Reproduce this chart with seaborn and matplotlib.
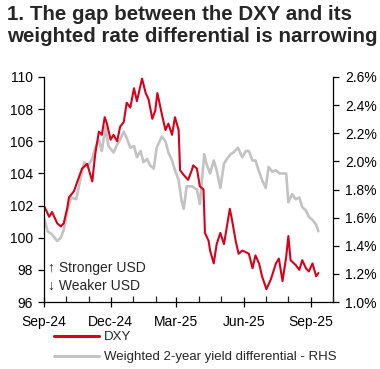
import matplotlib
matplotlib.use("Agg")
import matplotlib.pyplot as plt
import matplotlib.dates as mdates
import seaborn as sns
import pandas as pd

# ---- data ----
dxy_dates = ["2024-09-02", "2024-09-08", "2024-09-12", "2024-09-19", "2024-09-24", "2024-09-28",
             "2024-10-03", "2024-10-05", "2024-10-12", "2024-10-19", "2024-10-23", "2024-10-30",
             "2024-11-06", "2024-11-10", "2024-11-15", "2024-11-19", "2024-11-23", "2024-11-26",
             "2024-12-01", "2024-12-05", "2024-12-10", "2024-12-14", "2024-12-19", "2024-12-23",
             "2024-12-28", "2025-01-02", "2025-01-06", "2025-01-13", "2025-01-18", "2025-01-22",
             "2025-01-27", "2025-01-31", "2025-02-03", "2025-02-09", "2025-02-14", "2025-02-18",
             "2025-02-23", "2025-02-27", "2025-03-04", "2025-03-06", "2025-03-11", "2025-03-17",
             "2025-03-22", "2025-03-24", "2025-03-29", "2025-04-02", "2025-04-07", "2025-04-09",
             "2025-04-14", "2025-04-16", "2025-04-21", "2025-04-25", "2025-04-30", "2025-05-05",
             "2025-05-09", "2025-05-13", "2025-05-16", "2025-05-21", "2025-05-25", "2025-05-30",
             "2025-06-04", "2025-06-08", "2025-06-13", "2025-06-17", "2025-06-22", "2025-06-26",
             "2025-07-02", "2025-07-08", "2025-07-15", "2025-07-19", "2025-07-24", "2025-07-29",
             "2025-08-01", "2025-08-04", "2025-08-11", "2025-08-16", "2025-08-20", "2025-08-25",
             "2025-08-29", "2025-09-03", "2025-09-08", "2025-09-11"]
dxy_values = [101.9, 101.3, 101.6, 100.9, 100.7, 100.9,
              101.9, 102.5, 102.9, 103.8, 104.3, 104.6,
              103.5, 105.2, 106.6, 106.4, 107.5, 107.1,
              106.1, 106.4, 106.0, 106.9, 107.2, 108.4,
              108.1, 109.3, 108.5, 109.9, 109.0, 108.6,
              107.4, 107.9, 109.0, 107.7, 106.7, 107.1,
              106.4, 107.5, 106.7, 104.2, 103.9, 103.6,
              104.2, 104.5, 104.3, 103.2, 103.0, 100.3,
              99.8, 99.2, 98.4, 99.6, 100.3, 99.6,
              100.7, 101.8, 101.1, 99.8, 99.0, 99.2,
              99.1, 99.0, 98.1, 98.9, 98.4, 97.6,
              96.8, 97.4, 98.4, 98.7, 97.3, 98.8,
              100.1, 98.6, 98.3, 98.0, 98.6, 98.1,
              97.9, 98.4, 97.6, 97.8]

diff_dates = ["2024-09-02", "2024-09-06", "2024-09-12", "2024-09-19", "2024-09-24", "2024-09-28",
              "2024-10-03", "2024-10-08", "2024-10-15", "2024-10-22", "2024-10-26", "2024-10-30",
              "2024-11-06", "2024-11-10", "2024-11-15", "2024-11-19", "2024-11-24", "2024-11-28",
              "2024-12-05", "2024-12-10", "2024-12-14", "2024-12-19", "2024-12-23", "2024-12-28",
              "2025-01-02", "2025-01-06", "2025-01-11", "2025-01-15", "2025-01-20", "2025-01-24",
              "2025-01-29", "2025-02-02", "2025-02-09", "2025-02-14", "2025-02-18", "2025-02-23",
              "2025-02-27", "2025-03-04", "2025-03-08", "2025-03-11", "2025-03-15", "2025-03-22",
              "2025-03-29", "2025-04-02", "2025-04-04", "2025-04-08", "2025-04-11", "2025-04-16",
              "2025-04-21", "2025-04-25", "2025-04-30", "2025-05-05", "2025-05-09", "2025-05-14",
              "2025-05-18", "2025-05-24", "2025-05-30", "2025-06-04", "2025-06-08", "2025-06-13",
              "2025-06-17", "2025-06-22", "2025-06-26", "2025-07-01", "2025-07-05", "2025-07-10",
              "2025-07-15", "2025-07-20", "2025-07-24", "2025-07-29", "2025-08-01", "2025-08-06",
              "2025-08-11", "2025-08-16", "2025-08-20", "2025-08-25", "2025-08-29", "2025-09-03",
              "2025-09-08", "2025-09-11"]
diff_values = [1.583, 1.503, 1.480, 1.434, 1.457, 1.514,
               1.651, 1.743, 1.731, 1.903, 1.994, 1.960,
               2.017, 2.097, 2.154, 2.074, 2.246, 2.109,
               2.063, 2.120, 2.154, 2.211, 2.166, 2.097,
               2.109, 2.029, 2.074, 1.994, 2.017, 1.971,
               1.949, 2.097, 2.177, 2.143, 2.063, 2.006,
               1.937, 1.869, 1.720, 1.663, 1.823, 1.823,
               1.800, 1.697, 1.811, 2.051, 1.983, 1.914,
               2.006, 1.937, 1.811, 1.983, 2.017, 2.051,
               2.063, 2.097, 2.029, 2.074, 2.074, 2.006,
               2.006, 1.926, 1.869, 1.811, 1.960, 1.926,
               1.937, 1.914, 1.914, 1.914, 1.709, 1.766,
               1.731, 1.743, 1.674, 1.651, 1.606, 1.583,
               1.549, 1.503]

left_ticks = [96, 98, 100, 102, 104, 106, 108, 110]
right_ticks = [1.0, 1.2, 1.4, 1.6, 1.8, 2.0, 2.2, 2.4, 2.6]

title = "1. The gap between the DXY and its\nweighted rate differential is narrowing"
dxy_label = "DXY"
diff_label = "Weighted 2-year yield differential - RHS"

RED = "#D9001B"
GREY = "#C3C3C3"

sns.set_style("white")
plt.rcParams["font.family"] = ["Liberation Sans", "DejaVu Sans"]

fig = plt.figure(figsize=(3.8, 3.69), dpi=100)
ax = fig.add_axes([44 / 380, 1 - 302 / 369, (333 - 44) / 380, (302 - 77) / 369])
ax2 = ax.twinx()

df_dxy = pd.DataFrame({"date": pd.to_datetime(dxy_dates), "value": dxy_values})
df_diff = pd.DataFrame({"date": pd.to_datetime(diff_dates), "value": diff_values})

sns.lineplot(data=df_diff, x="date", y="value", ax=ax2, color=GREY, linewidth=1.9,
             label=diff_label, legend=False)
sns.lineplot(data=df_dxy, x="date", y="value", ax=ax, color=RED, linewidth=1.5,
             label=dxy_label, legend=False)

# draw red above grey
ax.set_zorder(ax2.get_zorder() + 1)
ax.patch.set_visible(False)

ax.set_xlim(pd.Timestamp("2024-09-01"), pd.Timestamp("2025-10-01"))
ax.set_ylim(96, 110)
ax2.set_ylim(1.0, 2.6)
ax.set_yticks(left_ticks)
ax.set_yticklabels([str(t) for t in left_ticks])
ax2.set_yticks(right_ticks)
ax2.set_yticklabels([f"{t:.1f}%" for t in right_ticks])

ax.xaxis.set_major_locator(mdates.MonthLocator(bymonth=[3, 6, 9, 12]))
ax.xaxis.set_major_formatter(mdates.DateFormatter("%b-%y"))
ax.xaxis.set_minor_locator(mdates.MonthLocator())

for a in (ax, ax2):
    a.set_xlabel("")
    a.set_ylabel("")
    a.spines["top"].set_visible(False)
    for s in ("left", "right", "bottom"):
        a.spines[s].set_color("black")
        a.spines[s].set_linewidth(0.9)
    a.grid(False)

ax.spines["right"].set_visible(False)
ax2.spines["left"].set_visible(False)
ax2.spines["bottom"].set_visible(False)

ax.tick_params(axis="y", which="major", direction="out", length=4, width=0.9,
               labelsize=10, pad=4, left=True, colors="black")
ax2.tick_params(axis="y", which="major", direction="out", length=4, width=0.9,
                labelsize=10, pad=5, right=True, colors="black")
ax.tick_params(axis="x", which="major", direction="inout", length=7, width=0.9,
               labelsize=10, pad=6, bottom=True, colors="black")
ax.tick_params(axis="x", which="minor", direction="in", length=4, width=0.9, bottom=True)

ax.text(0.015, 0.111, "\u2191 Stronger USD\n\u2193 Weaker USD", transform=ax.transAxes,
        fontsize=10, va="center", ha="left", linespacing=1.3,
        family=["Liberation Sans", "DejaVu Sans"])

fig.text(7 / 380, 1 - 5 / 369, title, fontsize=14.8, fontweight="bold", va="top", ha="left",
         linespacing=1.2)

h1, l1 = ax.get_legend_handles_labels()
h2, l2 = ax2.get_legend_handles_labels()
leg = fig.legend(h1 + h2, l1 + l2, loc="upper left", bbox_to_anchor=(54 / 380, 1 - 331 / 369),
                 frameon=False, fontsize=9.5, handlelength=3.4, handletextpad=0.4,
                 labelspacing=0.6, borderaxespad=0, borderpad=0)
for line in leg.get_lines():
    line.set_linewidth(2.2)

fig.savefig("out.png", dpi=100)
